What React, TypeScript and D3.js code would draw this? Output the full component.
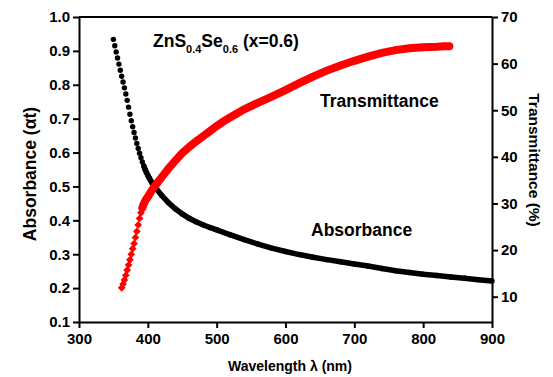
import React, { useRef, useEffect } from "react";
import * as d3 from "d3";

// absorbance (black dots)
const absWl = [350, 352, 354, 356, 358, 360, 362, 364, 366, 368, 370, 372, 374, 376, 378, 380, 382, 384, 386, 388, 390, 392, 394, 396, 398, 400, 402, 404, 406, 408, 410,
  420, 430, 440, 450, 460, 470, 480, 490, 500, 520, 540, 560, 580, 600, 620, 640, 660, 680, 700, 720, 740, 760, 780, 800, 820, 840, 860, 880, 900];
const absVal = [0.934, 0.915, 0.897, 0.879, 0.861, 0.843, 0.825, 0.808, 0.791, 0.773, 0.754, 0.734, 0.713, 0.694, 0.676, 0.659, 0.643, 0.627, 0.612, 0.598, 0.585, 0.572, 0.561, 0.550, 0.541, 0.533, 0.525, 0.518, 0.511, 0.505, 0.499,
  0.474, 0.452, 0.434, 0.419, 0.406, 0.396, 0.387, 0.379, 0.372, 0.357, 0.343, 0.330, 0.318, 0.308, 0.299, 0.291, 0.284, 0.278, 0.271, 0.265, 0.258, 0.251, 0.246, 0.241, 0.237, 0.233, 0.229, 0.225, 0.221];

// transmittance (red diamonds)
const trWl = [362, 364, 366, 368, 370, 372, 374, 376, 378, 380, 382, 384, 386, 388, 390, 392, 394, 396, 398, 400, 402, 404, 406, 408, 410,
  420, 430, 440, 450, 460, 470, 480, 490, 500, 510, 520, 540, 560, 580, 600, 620, 640, 660, 680, 700, 720, 740, 760, 780, 800, 820, 830, 838];
const trVal = [11.9, 12.7, 13.6, 14.6, 15.7, 16.8, 17.9, 19.1, 20.3, 21.4, 22.7, 24.0, 25.4, 26.8, 28.0, 29.0, 29.9, 30.5, 31.0, 31.4, 31.9, 32.4, 32.9, 33.3, 33.7,
  35.6, 37.5, 39.2, 40.8, 42.1, 43.3, 44.4, 45.5, 46.6, 47.6, 48.5, 50.2, 51.6, 52.9, 54.3, 55.8, 57.2, 58.5, 59.6, 60.6, 61.5, 62.3, 62.9, 63.3, 63.5, 63.6, 63.7, 63.7];

const xTicks = [300, 400, 500, 600, 700, 800, 900];
const leftTicks = [0.1, 0.2, 0.3, 0.4, 0.5, 0.6, 0.7, 0.8, 0.9, 1.0];
const rightTicks = [10, 20, 30, 40, 50, 60, 70];

const FONT = "'Liberation Sans', Arial, sans-serif";

export default function App() {
  const chartRef = useRef<SVGSVGElement | null>(null);

  useEffect(() => {
    const left = 79, right = 492, top = 17, bottom = 322;

    const x = d3.scaleLinear().domain([300, 900]).range([left, right]);
    const yL = d3.scaleLinear().domain([0.1, 1.0]).range([bottom, top]);
    const yR = d3.scaleLinear().domain([4.57, 70]).range([bottom, top]);

    const svg = d3.select(chartRef.current);
    svg.selectAll("*").remove();

    const absData = absWl.map((w, i) => ({ x: w, y: absVal[i] }));
    const trData = trWl.map((w, i) => ({ x: w, y: trVal[i] }));

    // absorbance
    const lineA = d3.line<{ x: number; y: number }>().x((d) => x(d.x)).y((d) => yL(d.y));
    svg.append("path")
      .datum(absData.filter((d) => d.x >= 394))
      .attr("d", lineA)
      .attr("fill", "none")
      .attr("stroke", "#000")
      .attr("stroke-width", 5.5);
    svg.append("g")
      .selectAll("circle")
      .data(absData)
      .enter()
      .append("circle")
      .attr("cx", (d) => x(d.x))
      .attr("cy", (d) => yL(d.y))
      .attr("r", 2.7)
      .attr("fill", "#000");

    // transmittance
    const lineT = d3.line<{ x: number; y: number }>().x((d) => x(d.x)).y((d) => yR(d.y));
    svg.append("path")
      .datum(trData.filter((d) => d.x >= 392))
      .attr("d", lineT)
      .attr("fill", "none")
      .attr("stroke", "#ff0000")
      .attr("stroke-width", 8)
      .attr("stroke-linecap", "round");
    const diamond = d3.symbol().type(d3.symbolDiamond2).size(38);
    svg.append("g")
      .selectAll("path")
      .data(trData)
      .enter()
      .append("path")
      .attr("d", diamond)
      .attr("transform", (d) => `translate(${x(d.x)},${yR(d.y)})`)
      .attr("fill", "#ff0000");

    // axes
    const styleAxis = (g: any) => {
      g.select(".domain").attr("stroke-width", 2);
      g.selectAll(".tick line").attr("stroke-width", 2);
      g.selectAll(".tick text")
        .attr("font-family", FONT)
        .attr("font-weight", "bold")
        .attr("font-size", 15)
        .attr("fill", "#000");
    };

    svg.append("g")
      .attr("transform", `translate(0,${bottom})`)
      .call(d3.axisBottom(x).tickValues(xTicks).tickSize(6).tickSizeOuter(0).tickPadding(5).tickFormat(d3.format("d")))
      .call(styleAxis);
    svg.append("g")
      .attr("transform", `translate(${left},0)`)
      .call(d3.axisLeft(yL).tickValues(leftTicks).tickSize(6).tickSizeOuter(0).tickPadding(3).tickFormat(d3.format(".1f")))
      .call(styleAxis);
    svg.append("g")
      .attr("transform", `translate(${right},0)`)
      .call(d3.axisRight(yR).tickValues(rightTicks).tickSize(6).tickSizeOuter(0).tickPadding(3).tickFormat(d3.format("d")))
      .call(styleAxis);
    svg.append("line")
      .attr("x1", left).attr("x2", right)
      .attr("y1", top).attr("y2", top)
      .attr("stroke", "#000").attr("stroke-width", 2);
  }, []);

  return (
    <div style={{ position: "absolute", left: 0, top: 0 }}>
      <svg ref={chartRef} width={553} height={377} style={{ display: "block" }}></svg>
      <svg width={553} height={377} style={{ position: "absolute", left: 0, top: 0 }} fontFamily={FONT} fontWeight="bold" fill="#000">
        <text x={153} y={47} fontSize={17.5}>
          ZnS<tspan fontSize={11} dy={6}>0.4</tspan><tspan dy={-6}>Se</tspan><tspan fontSize={11} dy={6}>0.6</tspan><tspan dy={-6}> (x=0.6)</tspan>
        </text>
        <text x={320} y={107} fontSize={17.5}>Transmittance</text>
        <text x={311} y={236} fontSize={17.5}>Absorbance</text>
        <text x={290} y={371} fontSize={14} textAnchor="middle">Wavelength λ (nm)</text>
        <text transform="translate(36,174) rotate(-90)" fontSize={17.5} textAnchor="middle">Absorbance (αt)</text>
        <text transform="translate(529,160) rotate(90)" fontSize={15.5} textAnchor="middle">Transmittance (%)</text>
      </svg>
    </div>
  );
}
